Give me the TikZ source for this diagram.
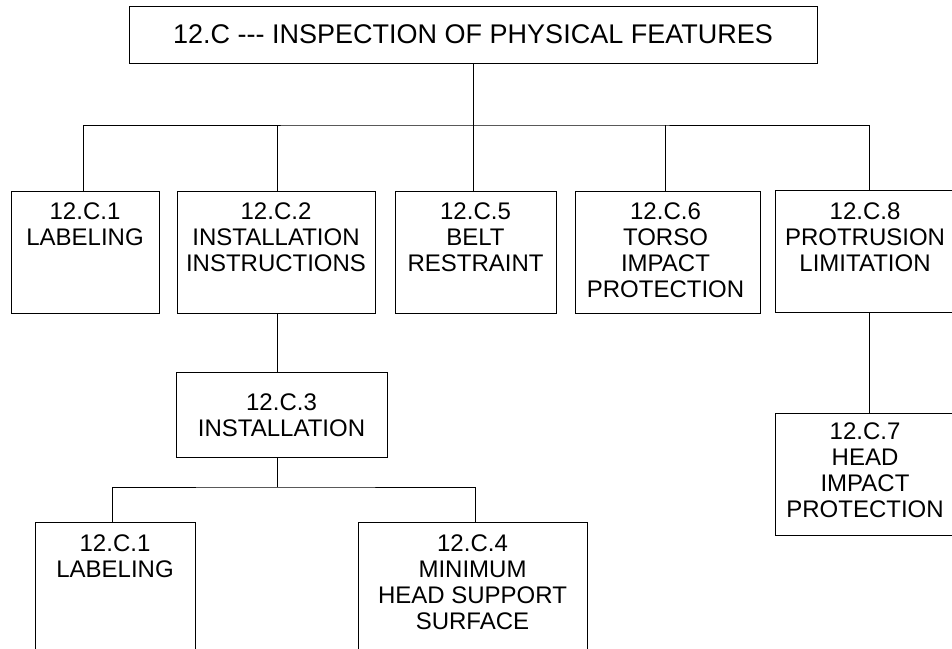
\documentclass[tikz,border=0pt]{standalone}
\usepackage{fontspec}
\setmainfont{Liberation Sans}
\begin{document}
\begin{tikzpicture}[x=1pt,y=-1pt,
  box/.style={draw, line width=0.9pt, inner sep=0pt, outer sep=0pt, anchor=north west},
  lbl/.style={inner sep=0pt, align=center, anchor=north, font=\fontsize{24}{26}\selectfont},
  conn/.style={line width=0.9pt}]
\clip (0,0) rectangle (952,648);
\fill[white] (0,0) rectangle (952,648);
% top
\node[draw, line width=0.9pt, inner sep=0pt, minimum width=688pt, minimum height=57pt,
  font=\fontsize{27}{30}\selectfont] (top) at (473,34.5) {12.C -\kern0pt-\kern0pt- INSPECTION OF PHYSICAL FEATURES};
% level 1 boxes
\node[box, minimum width=148pt, minimum height=122pt] (b1) at (11,191) {};
\node[box, minimum width=198pt, minimum height=122pt] (b2) at (177,191) {};
\node[box, minimum width=161pt, minimum height=122pt] (b5) at (395,191) {};
\node[box, minimum width=185pt, minimum height=122pt] (b6) at (575,191) {};
\node[box, minimum width=188pt, minimum height=122pt] (b8) at (775,190) {};
\node[lbl] (t1) at ([yshift=-11.5pt]b1.north) {12.C.1\\LABELING};
\node[lbl] (t2) at ([yshift=-11.5pt]b2.north) {12.C.2\\INSTALLATION\\INSTRUCTIONS};
\node[lbl] (t5) at ([yshift=-11.5pt]b5.north) {12.C.5\\BELT\\RESTRAINT};
\node[lbl] (t6) at ([yshift=-11.5pt,xshift=-2pt]b6.north) {12.C.6\\TORSO\\IMPACT\\PROTECTION};
\node[lbl] (t8) at ([yshift=-12.5pt,xshift=-4pt]b8.north) {12.C.8\\PROTRUSION\\LIMITATION};
% level 2
\node[box, minimum width=211pt, minimum height=85pt] (b3) at (176,372) {};
\node[lbl, anchor=center] (t3) at ([yshift=-1pt]b3.center) {12.C.3\\INSTALLATION};
\node[box, minimum width=188pt, minimum height=122pt] (b7) at (775,413) {};
\node[lbl] (t7) at ([yshift=-10pt,xshift=-4pt]b7.north) {12.C.7\\HEAD\\IMPACT\\PROTECTION};
% level 3
\node[box, minimum width=160pt, minimum height=140pt] (b1b) at (35,522) {};
\node[box, minimum width=229pt, minimum height=140pt] (b4) at (358,522) {};
\node[lbl] (t1b) at ([yshift=-13pt]b1b.north) {12.C.1\\LABELING};
\node[lbl] (t4) at ([yshift=-13pt]b4.north) {12.C.4\\MINIMUM\\HEAD SUPPORT\\SURFACE};
% connectors
\coordinate (j1) at (473.6,125);
\draw[conn] (top.south -| j1) -- (j1);
\draw[conn] ([xshift=-2pt]b1.north) |- (j1) -| (b8.north);
\draw[conn] ([xshift=1.5pt]b2.north) -- ([xshift=1.5pt]b2.north |- j1);
\draw[conn] ([xshift=-2pt]b5.north) -- ([xshift=-2pt]b5.north |- j1);
\draw[conn] ([xshift=-2.5pt]b6.north) -- ([xshift=-2.5pt]b6.north |- j1);
\draw[conn] ([xshift=1.5pt]b2.south) -- ([xshift=1.5pt]b2.south |- b3.north);
\draw[conn] (b8.south) -- (b8.south |- b7.north);
\coordinate (j2) at (277.5,487);
\draw[conn] (b3.south -| j2) -- (j2);
\draw[conn] ([xshift=-3pt]b1b.north) |- (j2) -| ([xshift=2.5pt]b4.north);
\end{tikzpicture}
\end{document}
